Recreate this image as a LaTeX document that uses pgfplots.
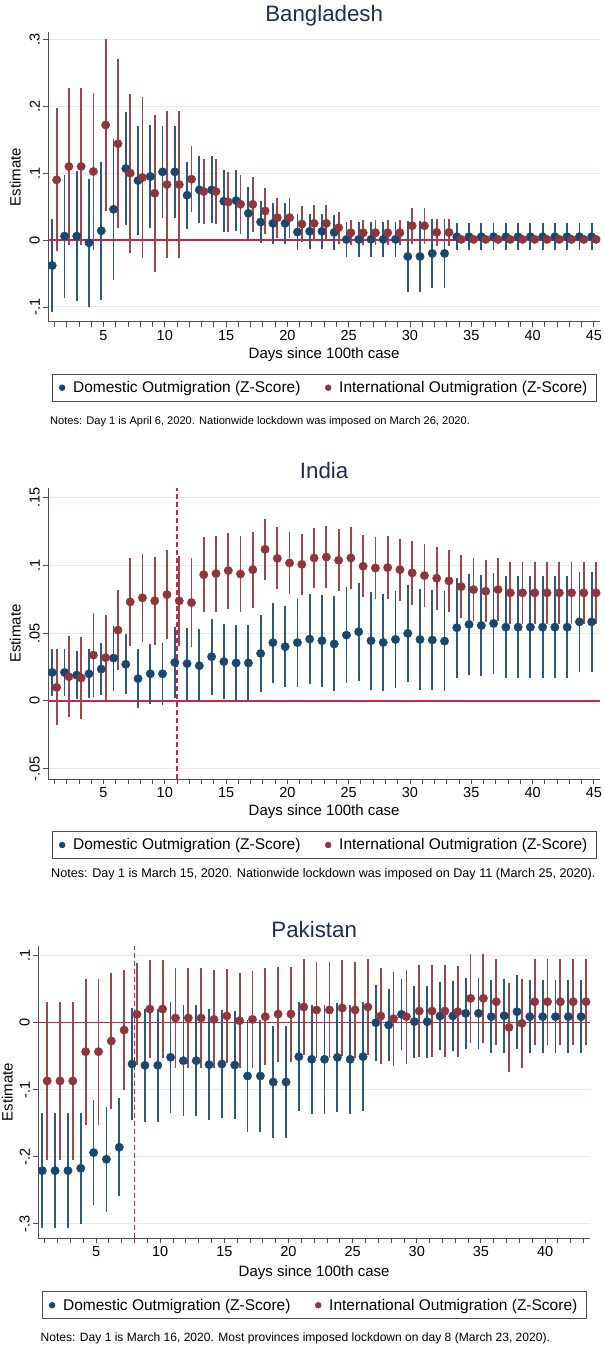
\documentclass[border=0pt]{standalone}
\usepackage{pgfplots}
\pgfplotsset{compat=1.18}
\usepackage{pgfplotstable}
\usepackage{fontspec}
\setmainfont{Liberation Sans}
\definecolor{stnavy}{RGB}{26,71,111}
\definecolor{stmaroon}{RGB}{144,53,59}
\definecolor{navyci}{RGB}{45,88,128}
\definecolor{maroonci}{RGB}{158,70,76}
\definecolor{refred}{RGB}{205,35,75}
\definecolor{gridc}{RGB}{226,236,238}
\definecolor{axisc}{RGB}{80,80,80}
\definecolor{titlec}{RGB}{30,45,85}

\pgfplotstableread{
d de dh ie ih
1 -0.038 0.069 0.090 0.107
2 0.006 0.092 0.110 0.118
3 0.006 0.097 0.110 0.118
4 -0.004 0.096 0.1025 0.117
5 0.014 0.103 0.172 0.128
6 0.046 0.105 0.144 0.126
7 0.107 0.085 0.100 0.119
8 0.089 0.082 0.0935 0.120
9 0.095 0.077 0.070 0.117
10 0.102 0.069 0.083 0.110
11 0.102 0.069 0.083 0.110
12 0.067 0.050 0.091 0.049
13 0.075 0.050 0.0725 0.048
14 0.075 0.050 0.0725 0.048
15 0.058 0.046 0.057 0.045
16 0.059 0.045 0.0535 0.044
17 0.040 0.039 0.0535 0.041
18 0.027 0.032 0.0435 0.035
19 0.025 0.031 0.0335 0.030
20 0.025 0.031 0.0335 0.030
21 0.012 0.027 0.024 0.027
22 0.013 0.026 0.025 0.027
23 0.013 0.026 0.025 0.027
24 0.0115 0.026 0.0185 0.024
25 0.001 0.026 0.011 0.019
26 0.001 0.026 0.011 0.019
27 0.001 0.026 0.011 0.019
28 0.001 0.026 0.011 0.019
29 0.001 0.026 0.011 0.019
30 -0.0245 0.053 0.0215 0.027
31 -0.0245 0.053 0.0215 0.027
32 -0.020 0.051 0.0115 0.020
33 -0.020 0.051 0.0115 0.020
34 0.005 0.020 0.001 0.005
35 0.005 0.020 0.001 0.005
36 0.005 0.020 0.001 0.005
37 0.005 0.020 0.001 0.005
38 0.005 0.020 0.001 0.005
39 0.005 0.020 0.001 0.005
40 0.005 0.020 0.001 0.005
41 0.005 0.020 0.001 0.005
42 0.005 0.020 0.001 0.005
43 0.005 0.020 0.001 0.005
44 0.005 0.020 0.001 0.005
45 0.005 0.020 0.001 0.005
}\bgd

\pgfplotstableread{
d de dh ie ih
1 0.021 0.0175 0.010 0.028
2 0.021 0.0175 0.0179 0.030
3 0.019 0.0175 0.0169 0.030
4 0.020 0.018 0.0338 0.031
5 0.0235 0.019 0.0319 0.0315
6 0.0316 0.024 0.0522 0.0294
7 0.027 0.022 0.073 0.0327
8 0.0164 0.022 0.076 0.0326
9 0.020 0.022 0.0738 0.0326
10 0.020 0.023 0.0784 0.033
11 0.0284 0.026 0.0738 0.033
12 0.0275 0.0265 0.0725 0.033
13 0.026 0.027 0.0931 0.0275
14 0.0326 0.028 0.0939 0.028
15 0.029 0.0275 0.0961 0.028
16 0.028 0.028 0.0936 0.028
17 0.028 0.028 0.0968 0.028
18 0.035 0.0285 0.1118 0.0227
19 0.043 0.0295 0.1051 0.0228
20 0.040 0.030 0.1017 0.0228
21 0.043 0.0325 0.1007 0.0225
22 0.0456 0.033 0.1054 0.022
23 0.0444 0.034 0.1061 0.023
24 0.042 0.035 0.1037 0.023
25 0.0485 0.0355 0.1054 0.023
26 0.051 0.036 0.0993 0.023
27 0.0444 0.036 0.098 0.023
28 0.0431 0.036 0.0983 0.0233
29 0.0453 0.036 0.0968 0.0229
30 0.0498 0.036 0.0944 0.0235
31 0.0453 0.037 0.0924 0.0232
32 0.0449 0.037 0.0904 0.0232
33 0.0441 0.037 0.0885 0.023
34 0.054 0.037 0.0843 0.0232
35 0.0564 0.0375 0.0821 0.0233
36 0.0556 0.0375 0.0809 0.023
37 0.0571 0.0375 0.0821 0.023
38 0.0544 0.0375 0.0797 0.023
39 0.0544 0.0375 0.0797 0.023
40 0.0544 0.0375 0.0797 0.023
41 0.0544 0.0375 0.0797 0.023
42 0.0544 0.0375 0.0797 0.023
43 0.0544 0.0375 0.0797 0.023
44 0.0583 0.037 0.0797 0.023
45 0.0583 0.037 0.0797 0.023
}\ind

\pgfplotstableread{
d de dh ie ih
1 -0.221 0.086 -0.087 0.118
2 -0.221 0.086 -0.087 0.118
3 -0.221 0.086 -0.087 0.118
4 -0.2174 0.083 -0.0433 0.109
5 -0.194 0.0785 -0.0433 0.109
6 -0.204 0.078 -0.0274 0.101
7 -0.186 0.0735 -0.011 0.089
8 -0.0617 0.0836 0.0124 0.076
9 -0.0637 0.084 0.0204 0.073
10 -0.0637 0.084 0.0204 0.073
11 -0.0517 0.083 0.007 0.074
12 -0.0567 0.083 0.007 0.074
13 -0.0567 0.083 0.007 0.074
14 -0.0627 0.0825 0.005 0.073
15 -0.0617 0.081 0.010 0.070
16 -0.0632 0.081 0.003 0.071
17 -0.0796 0.083 0.005 0.072
18 -0.0796 0.083 0.009 0.072
19 -0.0886 0.083 0.0129 0.071
20 -0.0886 0.083 0.0129 0.071
21 -0.0507 0.081 0.0234 0.071
22 -0.0547 0.081 0.019 0.071
23 -0.0547 0.081 0.019 0.071
24 -0.0517 0.081 0.0219 0.071
25 -0.0547 0.081 0.019 0.071
26 -0.0507 0.081 0.0234 0.071
27 0.000 0.057 0.010 0.071
28 -0.0035 0.0535 0.006 0.070
29 0.0124 0.053 0.009 0.070
30 0.0015 0.054 0.0174 0.069
31 0.0015 0.054 0.0174 0.069
32 0.010 0.051 0.0174 0.069
33 0.010 0.053 0.0164 0.068
34 0.0139 0.0535 0.0363 0.066
35 0.0139 0.0535 0.0363 0.066
36 0.009 0.055 0.0313 0.064
37 0.0104 0.055 -0.007 0.066
38 0.0164 0.055 -0.001 0.066
39 0.009 0.055 0.0313 0.064
40 0.009 0.055 0.0313 0.064
41 0.009 0.055 0.0313 0.064
42 0.009 0.055 0.0313 0.064
43 0.009 0.055 0.0313 0.064
}\pak

\pgfplotsset{
  every axis title shift=0pt,
  cstyle/.style={
    scale only axis,
    width=551.7pt,
    axis x line*=bottom, axis y line*=left,
    axis line style={draw=axisc, line width=0.9pt, -},
    tick align=outside,
    major tick length=5pt, minor tick length=5pt,
    tick style={draw=axisc, line width=0.9pt},
    ymajorgrids, grid style={draw=gridc, line width=1pt},
    xlabel={Days since 100th case}, ylabel={Estimate},
    label style={font=\fontsize{15}{17}\selectfont},
    tick label style={font=\fontsize{14.5}{16}\selectfont},
    yticklabel style={rotate=90, anchor=south},
    xlabel style={anchor=center},
    ylabel style={anchor=center},
    title style={font=\fontsize{22.3}{24}\selectfont, color=titlec, anchor=base, yshift=0pt},
    legend columns=2,
    legend cell align=left,
    legend style={draw=axisc, line width=0.8pt, font=\fontsize{15.5}{18}\selectfont,
      anchor=center, inner xsep=7pt, inner ysep=5pt,
      /tikz/every even column/.append style={column sep=22.5pt}},
    legend image code/.code={\draw[##1, mark size=2.8pt] plot coordinates {(0pt,0pt)};
      \path (-2.8pt,0pt) (8.6pt,0pt);},
  },
  dom/.style={only marks, mark=*, mark size=4.2pt, color=stnavy,
    error bars/.cd, y dir=both, y explicit, error mark=none,
    error bar style={line width=1.8pt, color=navyci}},
  intl/.style={only marks, mark=*, mark size=4.2pt, color=stmaroon,
    error bars/.cd, y dir=both, y explicit, error mark=none,
    error bar style={line width=1.8pt, color=maroonci}},
}

\begin{document}
\begin{tikzpicture}
\path[use as bounding box] (0pt,0pt) rectangle (605pt,-1347pt);

% ---------------- Bangladesh
\begin{axis}[cstyle,
  at={(48.3pt,-321.7pt)}, anchor=south west, height=289.7pt,
  xmin=0.5, xmax=45.5, ymin=-0.122, ymax=0.311,
  xtick={5,10,15,20,25,30,35,40,45}, xticklabels={5,10,15,20,25,30,35,40,45},
  minor xtick={1,2,...,45},
  ytick={-0.1,0,0.1,0.2,0.3}, yticklabels={-.1,0,.1,.2,.3},
  title={Bangladesh}, title style={at={(axis description cs:0.5,1.0356)}},
  xlabel style={at={(axis description cs:0.5,-0.114)}},
  ylabel style={at={(axis description cs:-0.0598,0.5)}},
  legend style={at={(axis description cs:0.5,-0.2278)}},
]
\addplot[forget plot, refred, line width=1.2pt] coordinates {(0.5,0) (45.5,0)};
\addplot[dom] table[x expr=\thisrow{d}-0.18, y=de, y error=dh] {\bgd};
\addlegendentry{Domestic Outmigration (Z-Score)}
\addplot[intl] table[x expr=\thisrow{d}+0.18, y=ie, y error=ih] {\bgd};
\addlegendentry{International Outmigration (Z-Score)}
\end{axis}
\node[anchor=west, font=\fontsize{11.1}{13}\selectfont, inner sep=0pt] at (50pt,-422pt)
  {Notes: Day 1 is April 6, 2020. Nationwide lockdown was imposed on March 26, 2020.};

% ---------------- India
\begin{axis}[cstyle,
  at={(48.3pt,-779pt)}, anchor=south west, height=291pt,
  xmin=0.5, xmax=45.5, ymin=-0.0576, ymax=0.157,
  xtick={5,10,15,20,25,30,35,40,45}, xticklabels={5,10,15,20,25,30,35,40,45},
  minor xtick={1,2,...,45},
  ytick={-0.05,0,0.05,0.1,0.15}, yticklabels={-.05,0,.05,.1,.15},
  title={India}, title style={at={(axis description cs:0.5,1.031)}},
  xlabel style={at={(axis description cs:0.5,-0.1134)}},
  ylabel style={at={(axis description cs:-0.0598,0.5)}},
  legend style={at={(axis description cs:0.5,-0.2268)}},
]
\addplot[forget plot, refred, line width=1.2pt] coordinates {(0.5,0) (45.5,0)};
\addplot[forget plot, refred, line width=1.3pt, dash pattern=on 5pt off 3pt] coordinates {(11,-0.0576) (11,0.157)};
\addplot[dom] table[x expr=\thisrow{d}-0.18, y=de, y error=dh] {\ind};
\addlegendentry{Domestic Outmigration (Z-Score)}
\addplot[intl] table[x expr=\thisrow{d}+0.18, y=ie, y error=ih] {\ind};
\addlegendentry{International Outmigration (Z-Score)}
\end{axis}
\node[anchor=west, font=\fontsize{12.6}{14}\selectfont, inner sep=0pt] at (51pt,-874pt)
  {Notes: Day 1 is March 15, 2020. Nationwide lockdown was imposed on Day 11 (March 25, 2020).};

% ---------------- Pakistan
\begin{axis}[cstyle,
  at={(38.3pt,-1238.3pt)}, anchor=south west, height=292.3pt,
  xmin=0.5, xmax=43.5, ymin=-0.322, ymax=0.1145,
  xtick={5,10,15,20,25,30,35,40}, xticklabels={5,10,15,20,25,30,35,40},
  minor xtick={1,2,...,43},
  ytick={-0.3,-0.2,-0.1,0,0.1}, yticklabels={-.3,-.2,-.1,0,.1},
  title={Pakistan}, title style={at={(axis description cs:0.5,1.0308)}},
  xlabel style={at={(axis description cs:0.5,-0.119)}},
  ylabel style={at={(axis description cs:-0.0562,0.5)}},
  legend style={at={(axis description cs:0.5,-0.229)}},
]
\addplot[forget plot, refred, line width=1.2pt] coordinates {(0.5,0) (43.5,0)};
\addplot[forget plot, refred, line width=1.3pt, dash pattern=on 5pt off 3pt] coordinates {(8,-0.322) (8,0.1145)};
\addplot[dom] table[x expr=\thisrow{d}-0.19, y=de, y error=dh] {\pak};
\addlegendentry{Domestic Outmigration (Z-Score)}
\addplot[intl] table[x expr=\thisrow{d}+0.19, y=ie, y error=ih] {\pak};
\addlegendentry{International Outmigration (Z-Score)}
\end{axis}
\node[anchor=west, font=\fontsize{12.05}{14}\selectfont, inner sep=0pt] at (40.5pt,-1338pt)
  {Notes: Day 1 is March 16, 2020. Most provinces imposed lockdown on day 8 (March 23, 2020).};
\end{tikzpicture}
\end{document}
